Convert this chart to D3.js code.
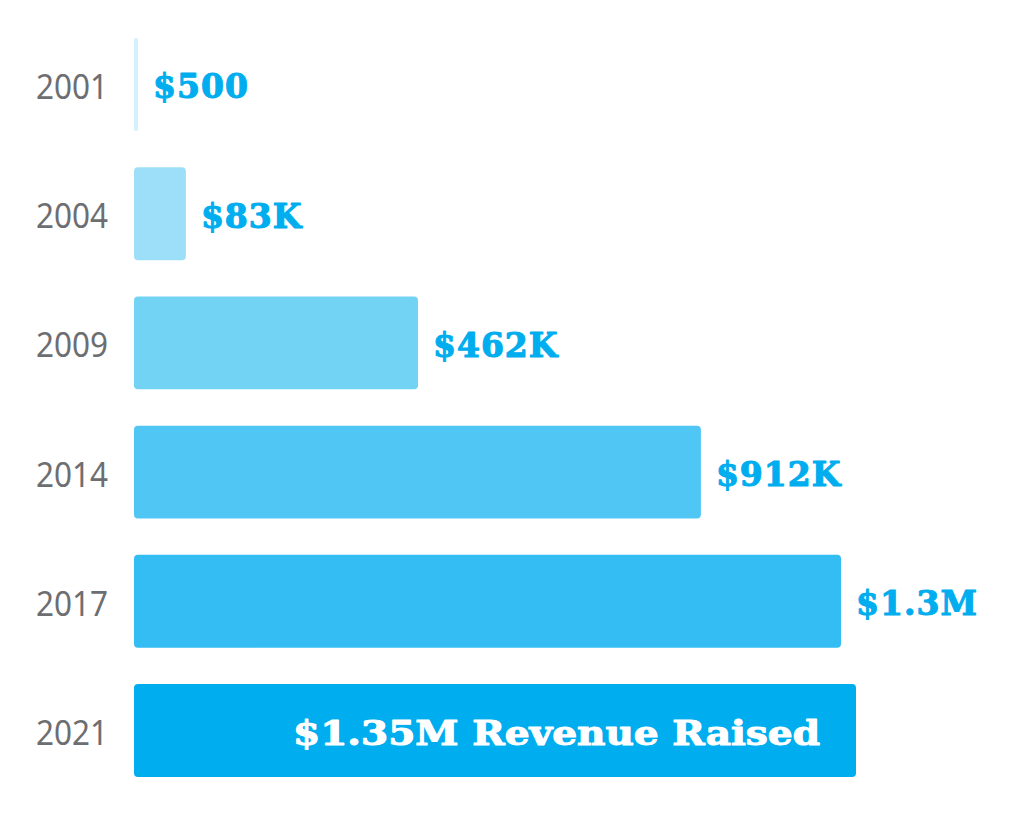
<!DOCTYPE html>
<html>
<head>
<meta charset="utf-8">
<script src="https://cdn.jsdelivr.net/npm/d3@7"></script>
<style>
  html, body { margin: 0; padding: 0; background: #ffffff; }
  svg { display: block; }
</style>
</head>
<body>
<svg id="chart" width="1024" height="813"></svg>
<script>
// ---- data ----
const years = ["2001", "2004", "2009", "2014", "2017", "2021"];
// bar lengths as drawn, in dollars on the chart's implicit axis
const barValues = [7500, 97000, 531000, 1060000, 1322000, 1350000];
const valueLabels = ["$500", "$83K", "$462K", "$912K", "$1.3M", "$1.35M Revenue Raised"];
const barColors = ["#d3f1fc", "#9ddff8", "#72d3f5", "#4fc6f3", "#33bdf2", "#00adee"];

const svg = d3.select("#chart");
const left = 134;

const x = d3.scaleLinear().domain([0, 1350000]).range([left, left + 722]);
const y = d3.scaleBand().domain(years).range([38, 777]).paddingInner(0.281).paddingOuter(0);

const rows = years.map((yr, i) => ({ yr, v: barValues[i], label: valueLabels[i], color: barColors[i], last: i === years.length - 1 }));

// bars
svg.append("g").selectAll("rect").data(rows).join("rect")
  .attr("x", x(0))
  .attr("y", d => y(d.yr))
  .attr("width", d => x(d.v) - x(0))
  .attr("height", y.bandwidth())
  .attr("rx", d => Math.min(4, (x(d.v) - x(0)) / 2))
  .attr("fill", d => d.color);

// year labels (axis)
const sx = 0.9;
const axis = d3.axisLeft(y).tickSize(0).tickPadding(27);
const ag = svg.append("g").attr("transform", `translate(${left},0)`).call(axis);
ag.select(".domain").remove();
ag.selectAll("text")
  .attr("x", -26 / sx)
  .attr("transform", `scale(${sx},1)`)
  .attr("dy", "0.36em")
  .attr("y", 2)
  .style("font-family", "'Noto Sans', 'Open Sans', sans-serif")
  .style("font-size", "35px")
  .style("fill", "#6d6e71");

// value labels
svg.append("g").selectAll("text").data(rows).join("text")
  .attr("x", d => d.last ? x(d.v) - 36 : x(d.v) + 15)
  .attr("y", d => y(d.yr) + y.bandwidth() / 2 + (d.last ? 2.5 : 2))
  .attr("dy", "0.36em")
  .attr("text-anchor", d => d.last ? "end" : "start")
  .attr("textLength", d => d.last ? 527 : null)
  .attr("lengthAdjust", d => d.last ? "spacingAndGlyphs" : null)
  .style("font-family", "'DejaVu Serif', serif")
  .style("font-weight", "bold")
  .style("font-size", "33px")
  .style("letter-spacing", d => d.last ? "0px" : "1px")
  .style("fill", d => d.last ? "#ffffff" : "#00adee")
  .style("stroke", d => d.last ? "#ffffff" : "#00adee")
  .style("stroke-width", "1.1px")
  .style("stroke-linejoin", "round")
  .text(d => d.label);
</script>
</body>
</html>
